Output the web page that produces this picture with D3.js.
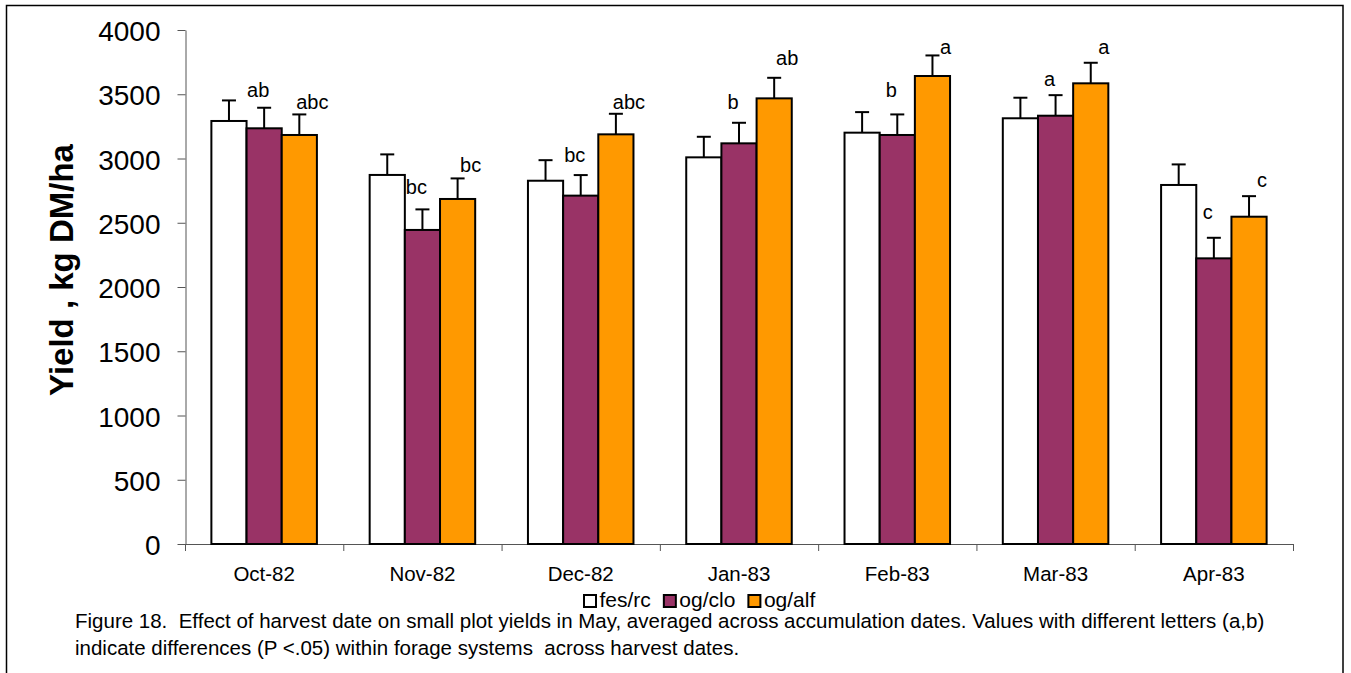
<!DOCTYPE html>
<html>
<head>
<meta charset="utf-8">
<script src="https://cdn.jsdelivr.net/npm/d3@7"></script>
<style>
  html, body { margin: 0; padding: 0; background: #fff; }
  svg { display: block; font-family: "Liberation Sans", Arial, sans-serif; }
  text { white-space: pre; }
</style>
</head>
<body>
<svg id="chart" width="1351" height="673"></svg>
<script>
// ---------- data ----------
const categories = ["Oct-82", "Nov-82", "Dec-82", "Jan-83", "Feb-83", "Mar-83", "Apr-83"];
const seriesNames = ["fes/rc", "og/clo", "og/alf"];
const fesrc  = [3292, 2872, 2827, 3009, 3201, 3313, 2794];
const ogclo  = [3235, 2444, 2711, 3118, 3183, 3333, 2223];
const ogalf  = [3183, 2685, 3188, 3468, 3642, 3585, 2547];
const fesrcErr = [160, 160, 160, 160, 160, 160, 160];
const ogcloErr = [160, 160, 160, 160, 160, 160, 160];
const ogalfErr = [160, 160, 160, 160, 160, 160, 160];
// significance letters and the height (kg DM/ha) at which each is written
const ogcloLetters = ["ab", "bc", "bc", "b", "b", "a", "c"];
const ogalfLetters = ["abc", "bc", "abc", "ab", "a", "a", "c"];
const ogcloLetterY = [3533, 2778, 3027, 3442, 3533, 3619, 2584];
const ogalfLetterY = [3442, 2949, 3440, 3782, 3868, 3868, 2833];
const yTicks = [0, 500, 1000, 1500, 2000, 2500, 3000, 3500, 4000];
const yTitle = "Yield , kg DM/ha";
const caption = [
  "Figure 18.  Effect of harvest date on small plot yields in May, averaged across accumulation dates. Values with different letters (a,b)",
  "indicate differences (P <.05) within forage systems  across harvest dates."
];

// ---------- styles ----------
const colors = ["#FFFFFF", "#993366", "#FF9900"];
const values = [fesrc, ogclo, ogalf];
const errs = [fesrcErr, ogcloErr, ogalfErr];

const svg = d3.select("#chart");

// outer frame
svg.append("rect")
  .attr("x", 6.5).attr("y", 5.5)
  .attr("width", 1336.5).attr("height", 720)
  .attr("fill", "none").attr("stroke", "#000").attr("stroke-width", 1.5);

const plot = { left: 185, right: 1293, top: 30, bottom: 544 };

const y = d3.scaleLinear().domain([0, 4000]).range([plot.bottom, plot.top]);
const x = d3.scaleBand().domain(categories).range([plot.left, plot.right]).padding(0);
const bw = x.bandwidth();
const barW = bw / 4.5;
const xs = d3.scaleBand().domain(d3.range(3)).range([barW * 0.75, bw - barW * 0.75]).padding(0);

// y axis
const yAxis = d3.axisLeft(y).tickValues(yTicks).tickFormat(d3.format("d"))
  .tickSize(8).tickSizeOuter(0).tickPadding(17);
const gy = svg.append("g").attr("transform", `translate(${plot.left + 0.5},0)`).call(yAxis);
gy.select(".domain").attr("stroke", "#555").attr("stroke-width", 1);
gy.selectAll(".tick line").attr("stroke", "#555").attr("stroke-width", 1);
gy.selectAll(".tick text").attr("font-size", 28).attr("fill", "#000")
  .attr("font-family", "'Liberation Sans', Arial, sans-serif").attr("dy", "0.38em");

// x axis baseline + boundary ticks
svg.append("line")
  .attr("x1", plot.left).attr("x2", plot.right)
  .attr("y1", plot.bottom + 0.5).attr("y2", plot.bottom + 0.5)
  .attr("stroke", "#555").attr("stroke-width", 1);
const boundaries = categories.map(c => x(c)).concat([x(categories[categories.length - 1]) + bw]);
svg.selectAll("line.xtick").data(boundaries).enter().append("line")
  .attr("class", "xtick")
  .attr("x1", d => d + 0.5).attr("x2", d => d + 0.5)
  .attr("y1", plot.bottom).attr("y2", plot.bottom + 7)
  .attr("stroke", "#555").attr("stroke-width", 1);
const xAxis = d3.axisBottom(x).tickSize(0).tickPadding(0);
const gx = svg.append("g").attr("transform", `translate(0,${plot.bottom})`).call(xAxis);
gx.select(".domain").remove();
gx.selectAll(".tick text").attr("font-size", 20.5).attr("fill", "#000")
  .attr("font-family", "'Liberation Sans', Arial, sans-serif")
  .attr("dy", 0).attr("y", 37);

// bars
const groups = svg.selectAll("g.cat").data(categories).enter().append("g")
  .attr("class", "cat").attr("transform", c => `translate(${x(c)},0)`);

for (let s = 0; s < 3; s++) {
  groups.append("rect")
    .attr("x", (c, i) => xs(s))
    .attr("y", (c, i) => y(values[s][i]))
    .attr("width", barW)
    .attr("height", (c, i) => y(0) - y(values[s][i]))
    .attr("fill", colors[s])
    .attr("stroke", "#000").attr("stroke-width", 2);
  // error bars
  groups.append("line")
    .attr("x1", (c, i) => xs(s) + barW / 2).attr("x2", (c, i) => xs(s) + barW / 2)
    .attr("y1", (c, i) => y(values[s][i])).attr("y2", (c, i) => y(values[s][i] + errs[s][i]))
    .attr("stroke", "#000").attr("stroke-width", 2);
  groups.append("line")
    .attr("x1", (c, i) => xs(s) + barW / 2 - 7).attr("x2", (c, i) => xs(s) + barW / 2 + 7)
    .attr("y1", (c, i) => y(values[s][i] + errs[s][i])).attr("y2", (c, i) => y(values[s][i] + errs[s][i]))
    .attr("stroke", "#000").attr("stroke-width", 2);
}

// significance letters
const letterSets = [
  { s: 1, letters: ogcloLetters, ly: ogcloLetterY, dx: -6 },
  { s: 2, letters: ogalfLetters, ly: ogalfLetterY, dx: 13 }
];
letterSets.forEach(set => {
  groups.append("text")
    .attr("x", (c, i) => xs(set.s) + barW / 2 + set.dx)
    .attr("y", (c, i) => y(set.ly[i]))
    .attr("dy", "0.35em")
    .attr("text-anchor", "middle")
    .attr("font-size", 20)
    .text((c, i) => set.letters[i]);
});

// y axis title
svg.append("text")
  .attr("transform", `translate(73,270) rotate(-90)`)
  .attr("text-anchor", "middle")
  .attr("font-size", 33).attr("font-weight", "bold")
  .text(yTitle);

// legend
const legend = svg.append("g").attr("transform", "translate(583,0)");
let lx = 0;
seriesNames.forEach((name, i) => {
  legend.append("rect")
    .attr("x", lx + 1).attr("y", 595)
    .attr("width", 12).attr("height", 12)
    .attr("fill", colors[i]).attr("stroke", "#000").attr("stroke-width", 2);
  const t = legend.append("text")
    .attr("x", lx + 16.5).attr("y", 607)
    .attr("font-size", 21).text(name);
  lx += 16.5 + t.node().getComputedTextLength() + 12;
});

// caption
caption.forEach((line, i) => {
  svg.append("text")
    .attr("x", 75).attr("y", 628 + i * 27)
    .attr("font-size", 20.5).text(line);
});
</script>
</body>
</html>
